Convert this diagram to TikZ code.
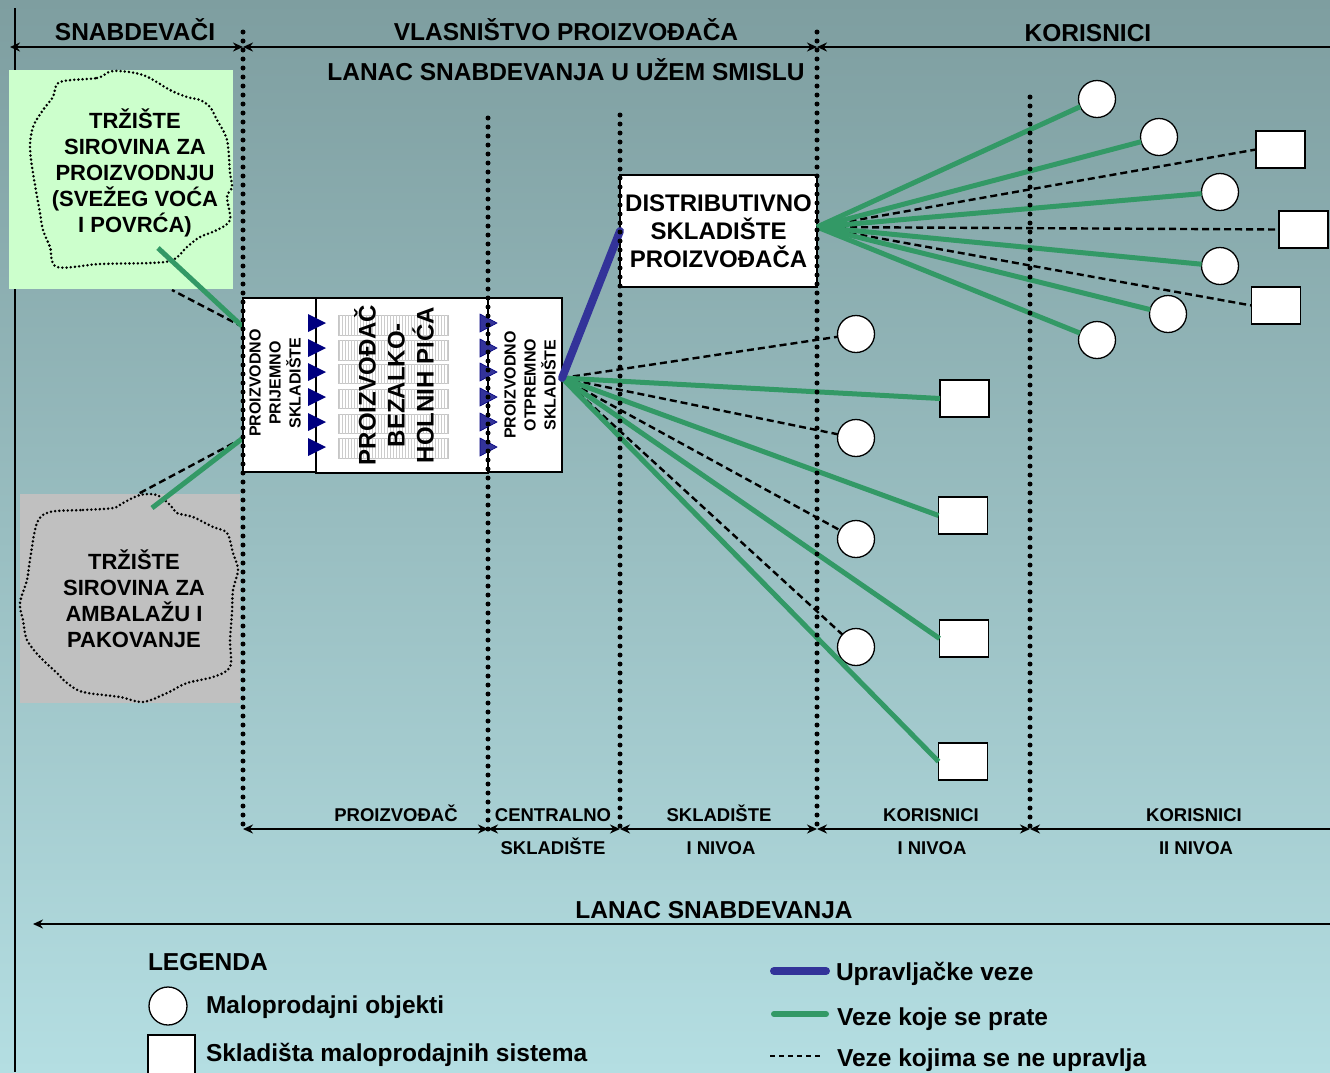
\documentclass[tikz,border=0pt]{standalone}
\usepackage{fontspec}
\setmainfont{Liberation Sans}
\usetikzlibrary{arrows.meta,patterns}
\definecolor{grn}{RGB}{51,153,102}
\definecolor{blu}{RGB}{51,51,153}
\definecolor{navy}{RGB}{0,0,128}
\definecolor{bgtop}{RGB}{126,158,160}
\definecolor{bgbot}{RGB}{180,222,226}
\definecolor{lgreen}{RGB}{204,255,204}
\definecolor{lgray}{RGB}{192,192,192}
\begin{document}
\begin{tikzpicture}[x=1pt,y=-1pt,
  every node/.style={inner sep=0pt, outer sep=0pt},
  big/.style={font=\bfseries\fontsize{24.5}{28}\selectfont},
  mid/.style={font=\bfseries\fontsize{22}{26}\selectfont, align=center},
  small/.style={font=\bfseries\fontsize{18.5}{22}\selectfont},
  tiny/.style={font=\bfseries\fontsize{16}{20}\selectfont, align=center},
  dotline/.style={line width=5pt, line cap=round, dash pattern=on 0pt off 9pt},
  cloudline/.style={line width=2.8pt, line cap=round, dash pattern=on 0pt off 4.2pt},
  gline/.style={draw=grn, line width=5pt},
  dline/.style={draw=black, line width=2.4pt, dash pattern=on 7pt off 4pt},
  bline/.style={draw=blu, line width=8pt, line cap=round},
  shop/.style={circle, draw, fill=white, line width=1.3pt, minimum size=37pt},
  store/.style={rectangle, draw, fill=white, line width=1.3pt, minimum width=49pt, minimum height=37pt},
  dimarrow/.style={line width=2pt, {Stealth[length=10pt,width=9pt]}-{Stealth[length=10pt,width=9pt]}},
  leftarrow/.style={line width=2pt, {Stealth[length=10pt,width=9pt]}-},
  whitebox/.style={draw, fill=white, line width=1.3pt},
]
% background
\shade[top color=bgtop, bottom color=bgbot] (0,0) rectangle (1330,1072);
\useasboundingbox (0,0) rectangle (1330,1072);
\draw[line width=1.5pt] (15,8) -- (15,1072);

% supplier dashed links (partly hidden by the market boxes)
\coordinate (p1) at (243,327);
\coordinate (p2) at (243,438);
\coordinate (m1d) at (172,290);
\coordinate (m2d) at (138,494);
\draw[dline] (p1) -- (m1d);
\draw[dline] (p2) -- (m2d);

% market boxes
\fill[lgreen] (9,70) rectangle (233,289);
\fill[lgray] (20,494) rectangle (240,703);
\draw[cloudline] plot[smooth cycle, tension=0.55] coordinates {(60,82) (97,78) (113,71) (143,75) (170,90) (187,97) (200,100) (210,107) (217,120) (227,140) (230,173) (232,187) (227,197) (230,220) (217,230) (200,237) (187,247) (173,260) (150,263) (100,264) (57,267) (50,247) (43,230) (40,213) (33,173) (30,147) (33,127) (43,110) (53,97)};
\draw[cloudline] plot[smooth cycle, tension=0.55] coordinates {(50,512) (83,510) (113,508) (123,503) (140,495) (157,495) (170,505) (177,513) (193,517) (213,527) (227,533) (233,553) (238,570) (233,590) (232,613) (230,640) (230,667) (213,677) (187,683) (167,693) (143,702) (120,697) (83,692) (67,683) (57,673) (40,657) (27,640) (23,620) (20,603) (27,580) (30,560) (37,523)};
\node[mid] (mkt1) at (135,173) {TRŽIŠTE\\SIROVINA ZA\\PROIZVODNJU\\(SVEŽEG VOĆA\\I POVRĆA)};
\node[mid] (mkt2) at (134,599) {TRŽIŠTE\\SIROVINA ZA\\AMBALAŽU I\\PAKOVANJE};
\coordinate (m1) at (158,248);
\coordinate (m2) at (152,508);
\draw[gline] (m1) -- (p1);
\draw[gline] (m2) -- (p2);

% production block
\node[whitebox, minimum width=73pt, minimum height=174pt] (prij) at (279.5,385) {};
\node[whitebox, minimum width=172pt, minimum height=175pt] (prod) at (402,385.5) {};
\node[whitebox, minimum width=74pt, minimum height=174pt] (otp) at (525,385) {};
\foreach \ya/\yb in {315/335,340/360,364/383,389/408,414/433,438/458}
  \draw[gray!45, line width=0.8pt, fill=white, postaction={pattern=vertical lines, pattern color=gray!40}] (338,\ya) rectangle (448,\yb);
\node[tiny, rotate=90] (prijtxt) at (275,383) {PROIZVODNO\\PRIJEMNO\\SKLADIŠTE};
\node[font=\bfseries\fontsize{24}{29}\selectfont, align=center, rotate=90] (prodtxt) at (394,385) {PROIZVOĐAČ\\BEZALKO-\\HOLNIH PIĆA};
\node[tiny, rotate=90] (otptxt) at (530,385) {PROIZVODNO\\OTPREMNO\\SKLADIŠTE};
\foreach \y in {323,348,372,397,422,447} {
  \fill[navy] (308,\y-9) -- (326,\y) -- (308,\y+9) -- cycle;
  \filldraw[fill=blu, draw=navy, line width=0.6pt] (480,\y-9) -- (497,\y) -- (480,\y+9) -- cycle;
}

% distribution warehouse
\node[whitebox, minimum width=197pt, minimum height=112pt, font=\bfseries\fontsize{24}{28}\selectfont, align=center] (dist) at (718.5,231) {DISTRIBUTIVNO\\SKLADIŠTE\\PROIZVOĐAČA};

% customers
\node[shop] (c1) at (1097,99) {};
\node[shop] (c2) at (1159,137) {};
\node[shop] (c3) at (1220,192) {};
\node[shop] (c4) at (1220,266) {};
\node[shop] (c5) at (1168,314) {};
\node[shop] (c6) at (1097,340) {};
\node[shop] (c7) at (856,334) {};
\node[shop] (c8) at (856,438) {};
\node[shop] (c9) at (856,539) {};
\node[shop] (c10) at (856,647) {};
\node[store] (s1) at (1280.5,149.5) {};
\node[store] (s2) at (1303.5,229.5) {};
\node[store] (s3) at (1276,305.5) {};
\node[store] (s4) at (964.5,398.5) {};
\node[store] (s5) at (963,515.5) {};
\node[store] (s6) at (964,638.5) {};
\node[store] (s7) at (963,761.5) {};

% fans
\coordinate (fa) at (817,227);
\coordinate (fb) at (562,378);
\foreach \n in {s1,s2,s3} \draw[dline] (fa) -- (\n.west);
\foreach \n in {c1,c2,c3,c4,c5,c6} \draw[gline] (fa) -- (\n);
\foreach \n in {c7,c8,c9,c10} \draw[dline] (fb) -- (\n);
\foreach \n in {s4,s5,s6,s7} \draw[gline] (fb) -- (\n.west);
\draw[bline] (fb) -- (dist.west);

% dotted separators
\draw[dotline] (243,32) -- (243,830);
\draw[dotline] (488,118) -- (488,830);
\draw[dotline] (620,115) -- (620,830);
\draw[dotline] (817,32) -- (817,830);
\draw[dotline] (1030,97) -- (1030,830);

% dimension arrows
\coordinate (ta) at (10,47);
\coordinate (tb) at (243,47);
\coordinate (tc) at (817,47);
\coordinate (td) at (1331,47);
\draw[dimarrow] (ta) -- (tb);
\draw[dimarrow] (tb) -- (tc);
\draw[leftarrow] (tc) -- (td);
\coordinate (ba) at (243,829);
\coordinate (bb) at (488,829);
\coordinate (bc) at (620,829);
\coordinate (bd) at (817,829);
\coordinate (be) at (1030,829);
\coordinate (bf) at (1331,829);
\draw[dimarrow] (ba) -- (bb);
\draw[dimarrow] (bb) -- (bc);
\draw[dimarrow] (bc) -- (bd);
\draw[dimarrow] (bd) -- (be);
\draw[leftarrow] (be) -- (bf);
\coordinate (la) at (33,924);
\coordinate (lb) at (1331,924);
\draw[leftarrow] (la) -- (lb);

% labels
\node[big, anchor=base] (hsnab) at (135,40) {SNABDEVAČI};
\node[big, anchor=base] (hvlas) at (566,40) {VLASNIŠTVO PROIZVOĐAČA};
\node[big, anchor=base] (hkor) at (1088,41) {KORISNICI};
\node[big, anchor=base] (hlanac) at (566,80) {LANAC SNABDEVANJA U UŽEM SMISLU};
\node[small, anchor=base] (bl1) at (396,821) {PROIZVOĐAČ};
\node[small, anchor=base] (bl2) at (553,821) {CENTRALNO};
\node[small, anchor=base] (bl3) at (553,854) {SKLADIŠTE};
\node[small, anchor=base] (bl4) at (719,821) {SKLADIŠTE};
\node[small, anchor=base] (bl5) at (721,854) {I NIVOA};
\node[small, anchor=base] (bl6) at (931,821) {KORISNICI};
\node[small, anchor=base] (bl7) at (932,854) {I NIVOA};
\node[small, anchor=base] (bl8) at (1194,821) {KORISNICI};
\node[small, anchor=base] (bl9) at (1196,854) {II NIVOA};
\node[big, anchor=base] (lanac) at (714,918) {LANAC SNABDEVANJA};

% legend
\node[big, anchor=base west] (leg) at (148,970) {LEGENDA};
\node[shop, minimum size=38pt] (lc) at (168,1006) {};
\node[big, anchor=base west] (lct) at (206,1013) {Maloprodajni objekti};
\node[store, minimum width=47pt, minimum height=46pt] (ls) at (171.5,1058) {};
\node[big, anchor=base west] (lst) at (206,1061) {Skladišta maloprodajnih sistema};
\coordinate (lb1) at (774,971);
\coordinate (lb2) at (826,971);
\draw[bline] (lb1) -- (lb2);
\node[big, anchor=base west] (lbt) at (836,980) {Upravljačke veze};
\coordinate (lg1) at (774,1014);
\coordinate (lg2) at (826,1014);
\draw[gline, line width=6pt, line cap=round] (lg1) -- (lg2);
\node[big, anchor=base west] (lgt) at (837,1025) {Veze koje se prate};
\coordinate (ld1) at (770,1056);
\coordinate (ld2) at (822,1056);
\draw[dline, line width=2pt, dash pattern=on 5pt off 4pt] (ld1) -- (ld2);
\node[big, anchor=base west] (ldt) at (837,1066) {Veze kojima se ne upravlja};
\end{tikzpicture}
\end{document}
